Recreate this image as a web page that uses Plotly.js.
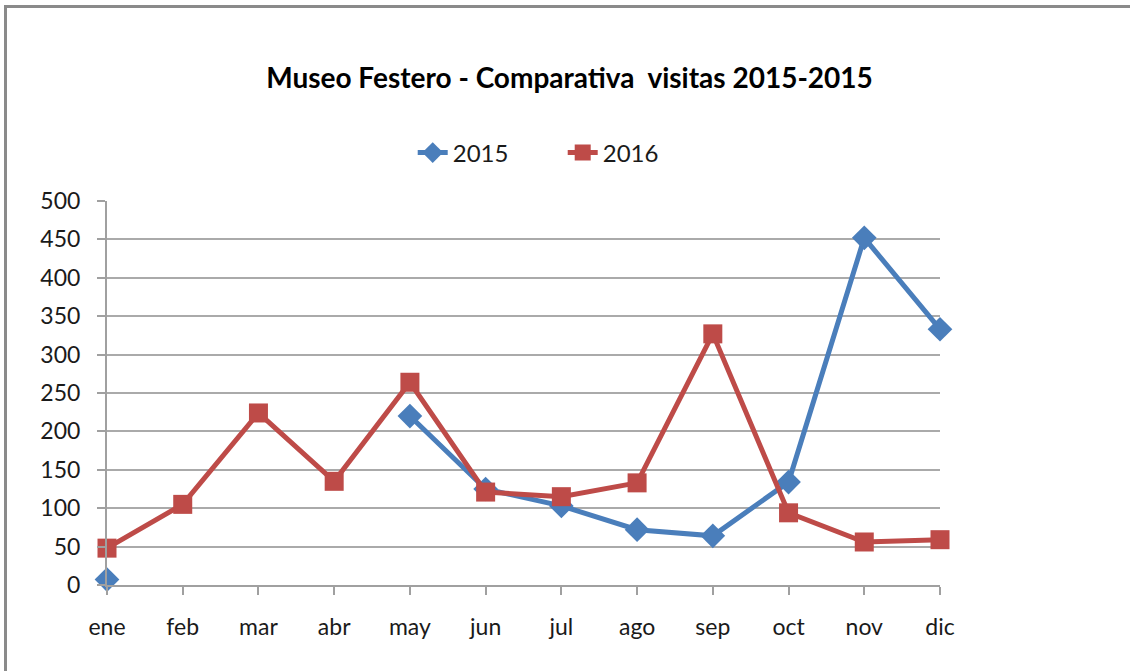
<!DOCTYPE html>
<html>
<head>
<meta charset="utf-8">
<script src="https://cdn.plot.ly/plotly-3.0.1.min.js"></script>
<style>
  html, body { margin: 0; padding: 0; background: #fff; }
  #chart { width: 1130px; height: 671px; }
  #frame { position: absolute; left: 4px; top: 5px; width: 1200px; height: 800px;
           border-left: 3px solid #8a8a8a; border-top: 3px solid #8a8a8a; pointer-events: none; }
</style>
</head>
<body>
<div id="chart"></div>
<div id="frame"></div>
<script>
const months = ["ene","feb","mar","abr","may","jun","jul","ago","sep","oct","nov","dic"];
const visitas2015 = [7, null, null, null, 220, 125, 103, 72, 64, 134, 452, 333];
const visitas2016 = [48, 105, 224, 135, 264, 121, 115, 133, 327, 94, 56, 59];
const yTicks = [0, 50, 100, 150, 200, 250, 300, 350, 400, 450, 500];

const font = "Lato, 'Open Sans', sans-serif";

const traces = [
  {
    x: months, y: visitas2015, name: "2015", type: "scatter", mode: "lines+markers",
    connectgaps: false, cliponaxis: false,
    line: { color: "#4A7EBB", width: 5 },
    marker: { symbol: "diamond", size: 19, color: "#4A7EBB" }
  },
  {
    x: months, y: visitas2016, name: "2016", type: "scatter", mode: "lines+markers",
    cliponaxis: false,
    line: { color: "#BE4B48", width: 5 },
    marker: { symbol: "square", size: 19, color: "#BE4B48" }
  }
];

const layout = {
  width: 1130, height: 671,
  margin: { l: 107, r: 190, t: 201, b: 86 },
  paper_bgcolor: "#fff", plot_bgcolor: "#fff",
  font: { family: font, size: 22, color: "#1a1a1a" },
  title: {
    text: "<b>Museo Festero - Comparativa  visitas 2015-2015</b>",
    font: { family: font, size: 28, color: "#000" },
    xref: "container", x: 0.504, xanchor: "center",
    yref: "container", y: 0.884, yanchor: "middle"
  },
  showlegend: true,
  legend: {
    orientation: "h", x: 0.367, xanchor: "left", y: 1.125, yanchor: "middle",
    font: { family: font, size: 24, color: "#1a1a1a" },
    entrywidth: 105, entrywidthmode: "pixels"
  },
  xaxis: {
    type: "category", categoryorder: "array", categoryarray: months,
    range: [0, 11],
    showgrid: false, zeroline: false,
    showline: true, linecolor: "#a0a0a0", linewidth: 2,
    ticks: "outside", ticklen: 8, tickcolor: "#a0a0a0", tickwidth: 2,
    tickfont: { family: font, size: 23, color: "#1a1a1a" },
    ticklabelstandoff: 12,
    fixedrange: true
  },
  yaxis: {
    range: [0, 500],
    tickvals: yTicks, ticktext: yTicks.map(String),
    showgrid: true, gridcolor: "#aaaaaa", gridwidth: 2,
    zeroline: false,
    showline: true, linecolor: "#a0a0a0", linewidth: 2,
    ticks: "outside", ticklen: 8, tickcolor: "#a0a0a0", tickwidth: 2,
    tickfont: { family: font, size: 23, color: "#1a1a1a" },
    ticklabelstandoff: 12,
    fixedrange: true
  }
};

Plotly.newPlot("chart", traces, layout, { displayModeBar: false, staticPlot: true });
</script>
</body>
</html>
